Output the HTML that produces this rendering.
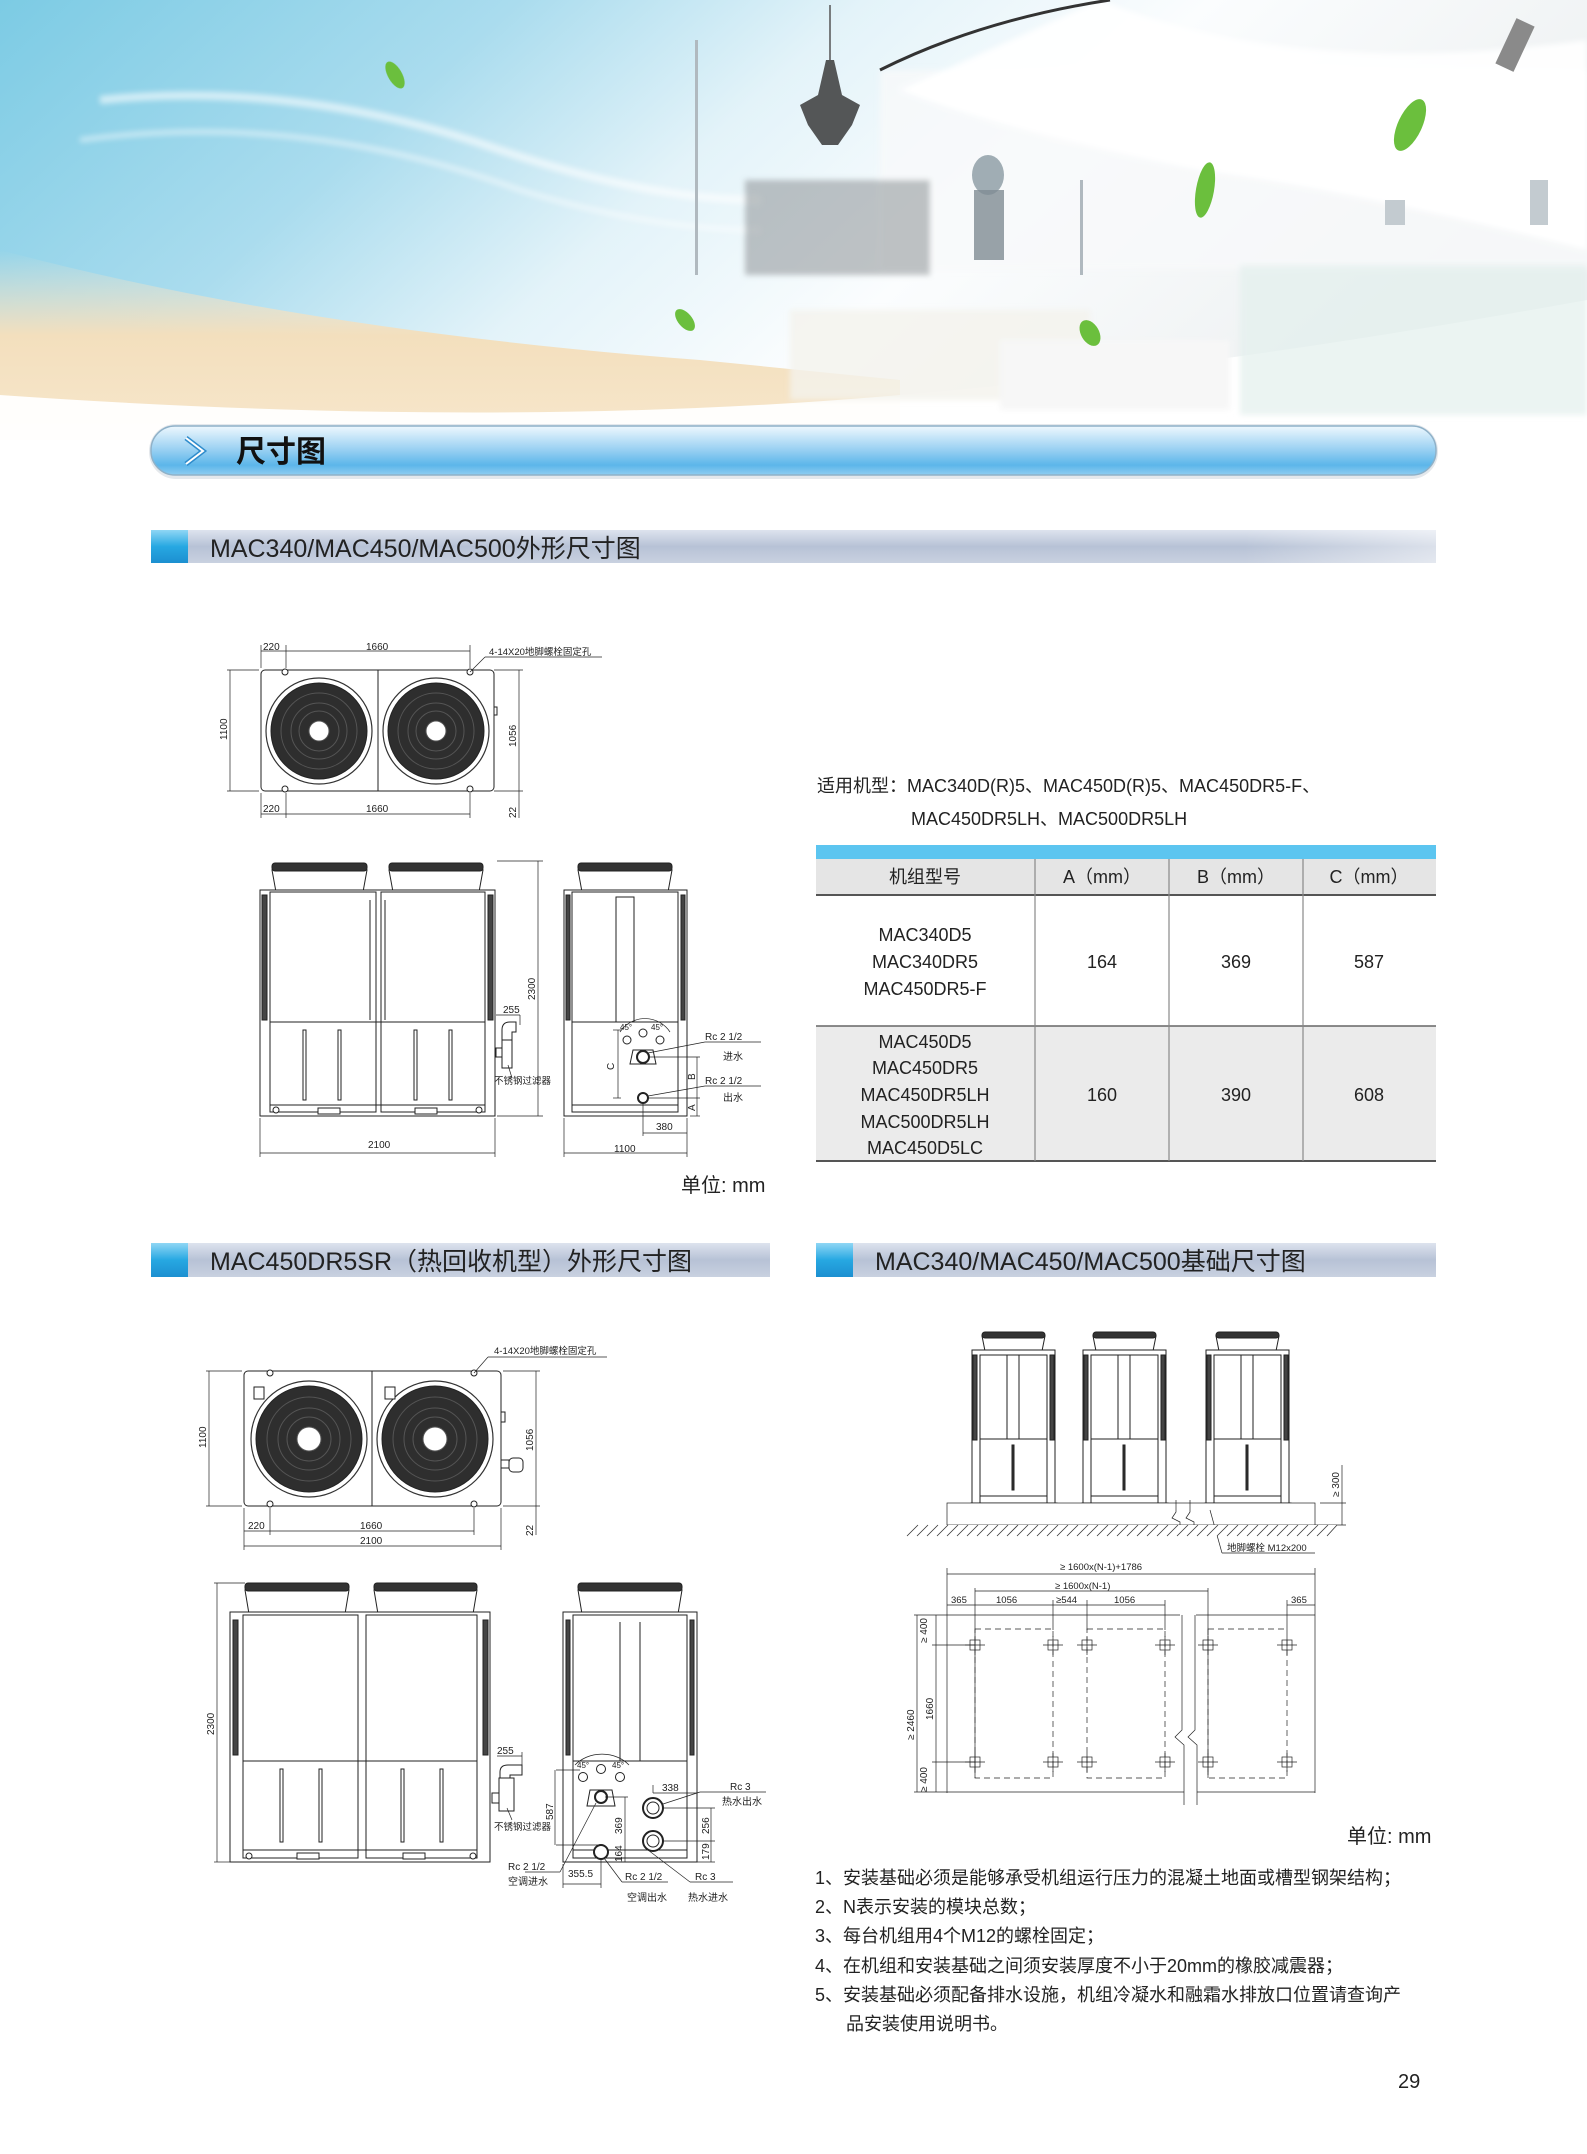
<!DOCTYPE html>
<html><head><meta charset="utf-8">
<style>
html,body{margin:0;padding:0;background:#fff;}
body{width:1587px;height:2154px;overflow:hidden;position:relative;font-family:"Liberation Sans","Noto Sans CJK SC",sans-serif;}
svg{position:absolute;left:0;top:0;}
</style></head><body>
<svg width="1587" height="2154" viewBox="0 0 1587 2154" xmlns="http://www.w3.org/2000/svg" font-family="Liberation Sans, Noto Sans CJK SC, sans-serif">
<defs>
<linearGradient id="sky" x1="0" y1="0" x2="1" y2="0.3">
<stop offset="0" stop-color="#7ccbe4"/><stop offset="0.3" stop-color="#aadcee"/><stop offset="0.5" stop-color="#e3f3f9"/><stop offset="0.7" stop-color="#fbfdfe"/><stop offset="1" stop-color="#eef1f2"/></linearGradient>
<linearGradient id="beige" x1="0" y1="0" x2="0" y2="1"><stop offset="0" stop-color="#f3e6cf" stop-opacity="0"/><stop offset="0.45" stop-color="#f3dfbd"/><stop offset="1" stop-color="#f7e7cc"/></linearGradient>
<linearGradient id="pill" x1="0" y1="0" x2="0" y2="1"><stop offset="0" stop-color="#eef8fe"/><stop offset="0.45" stop-color="#9fd3f3"/><stop offset="0.8" stop-color="#5cb6ea"/><stop offset="1" stop-color="#8fcdf1"/></linearGradient>
<linearGradient id="bar" x1="0" y1="0" x2="0" y2="1"><stop offset="0" stop-color="#dde3ee"/><stop offset="0.5" stop-color="#b7c2d6"/><stop offset="1" stop-color="#c9d1e0"/></linearGradient>
<linearGradient id="barh" x1="0" y1="0" x2="1" y2="0"><stop offset="0" stop-color="#fff" stop-opacity="0"/><stop offset="0.85" stop-color="#fff" stop-opacity="0"/><stop offset="1" stop-color="#fff" stop-opacity="0.5"/></linearGradient>
<linearGradient id="sq" x1="0" y1="0" x2="0" y2="1"><stop offset="0" stop-color="#8fd6f5"/><stop offset="0.5" stop-color="#27a8e2"/><stop offset="1" stop-color="#1c8fd0"/></linearGradient>
<filter id="blur"><feGaussianBlur stdDeviation="3"/></filter>
</defs>

<!-- HERO -->
<rect x="0" y="0" width="1587" height="430" fill="url(#sky)"/>
<path d="M0 250 Q300 330 700 360 L900 380 L900 440 L0 440 Z" fill="url(#beige)"/>
<path d="M0 395 Q500 430 900 395 Q1200 370 1587 300 L1587 440 L0 440 Z" fill="#fff" opacity="0.95"/>
<g filter="url(#blur)">
<path d="M100 100 Q300 80 500 150 Q650 200 760 200" stroke="#fff" stroke-width="8" fill="none" opacity="0.6"/>
<path d="M80 140 Q300 110 520 190 Q650 230 760 230" stroke="#fff" stroke-width="5" fill="none" opacity="0.5"/>
<rect x="880" y="70" width="720" height="200" fill="#f7f9fa" opacity="0.8"/>
<path d="M1100 0 Q1300 80 1587 40 L1587 250 Q1350 190 1200 170 Q1000 130 900 90 Z" fill="#fff" opacity="0.9"/>
<rect x="745" y="180" width="185" height="95" fill="#8d9296" opacity="0.55"/>
<rect x="1240" y="265" width="347" height="150" fill="#e2efed" opacity="0.7"/>
<rect x="790" y="310" width="300" height="90" fill="#f4f2ec" opacity="0.8"/>
<rect x="1000" y="340" width="230" height="70" fill="#f7f7f7"/>
</g>
<path d="M880 70 Q980 20 1110 0" stroke="#333" stroke-width="3" fill="none"/>
<rect x="1505" y="20" width="20" height="50" fill="#8a8a8a" transform="rotate(25 1515 45)"/>
<rect x="1385" y="200" width="20" height="25" fill="#c3cbd0"/><rect x="1530" y="180" width="18" height="45" fill="#c3cbd0"/>
<line x1="830" y1="5" x2="830" y2="60" stroke="#555" stroke-width="1.5"/>
<path d="M826 60 L834 60 L842 95 L860 105 L852 125 L838 145 L822 145 L808 125 L800 105 L818 95 Z" fill="#3a3a3a" opacity="0.85"/>
<ellipse cx="988" cy="175" rx="16" ry="20" fill="#8a9aa3" opacity="0.8"/><rect x="974" y="190" width="30" height="70" fill="#7f8c94" opacity="0.8"/>
<rect x="695" y="40" width="3" height="235" fill="#b0b9bf"/>
<rect x="1080" y="180" width="3" height="95" fill="#b0b9bf"/>
<g fill="#6bbf3d">
<ellipse cx="395" cy="75" rx="7" ry="15" transform="rotate(-30 395 75)"/>
<ellipse cx="1410" cy="125" rx="12" ry="28" transform="rotate(25 1410 125)"/>
<ellipse cx="1205" cy="190" rx="9" ry="28" transform="rotate(10 1205 190)"/>
<ellipse cx="685" cy="320" rx="7" ry="13" transform="rotate(-40 685 320)"/>
<ellipse cx="1090" cy="333" rx="9" ry="14" transform="rotate(-30 1090 333)"/>
</g>

<!-- header pill -->
<rect x="149" y="424" width="1289" height="55" rx="27" fill="#e4e8ec"/>
<rect x="151" y="426" width="1285" height="49" rx="24" fill="url(#pill)" stroke="#8fb1c8" stroke-width="1.5"/>
<path d="M186 438 L203 451 L186 464" stroke="#2f8ccc" stroke-width="5" fill="none"/>
<path d="M186 438 L203 451 L186 464" stroke="#fff" stroke-width="2" fill="none"/>
<text x="236" y="462" font-size="30" font-weight="bold" fill="#111">尺寸图</text>

<!-- section bars -->
<rect x="151" y="530" width="1285" height="33" fill="url(#bar)"/><rect x="151" y="530" width="1285" height="33" fill="url(#barh)"/>
<rect x="151" y="530" width="37" height="33" fill="url(#sq)"/>
<text x="210" y="557" font-size="25" fill="#222">MAC340/MAC450/MAC500外形尺寸图</text>

<rect x="151" y="1243" width="619" height="34" fill="url(#bar)"/>
<rect x="151" y="1243" width="37" height="34" fill="url(#sq)"/>
<text x="210" y="1270" font-size="25" fill="#222">MAC450DR5SR（热回收机型）外形尺寸图</text>

<rect x="816" y="1243" width="620" height="34" fill="url(#bar)"/>
<rect x="816" y="1243" width="37" height="34" fill="url(#sq)"/>
<text x="875" y="1270" font-size="25" fill="#222">MAC340/MAC450/MAC500基础尺寸图</text>

<!-- applicable models -->
<text x="817" y="792" font-size="18" fill="#222">适用机型：MAC340D(R)5、MAC450D(R)5、MAC450DR5-F、</text>
<text x="911" y="825" font-size="18" fill="#222">MAC450DR5LH、MAC500DR5LH</text>

<!-- table -->
<rect x="816" y="845" width="620" height="14" fill="#5cc5f0"/>
<rect x="816" y="859" width="620" height="36" fill="#e5e5e5"/>
<rect x="816" y="1026" width="620" height="135" fill="#ebebeb"/>
<line x1="816" y1="895" x2="1436" y2="895" stroke="#555" stroke-width="2"/>
<line x1="816" y1="1026" x2="1436" y2="1026" stroke="#666" stroke-width="1.5"/>
<line x1="816" y1="1161" x2="1436" y2="1161" stroke="#555" stroke-width="2"/>
<g stroke="#888" stroke-width="1.2"><line x1="1035" y1="859" x2="1035" y2="1161"/><line x1="1169" y1="859" x2="1169" y2="1161"/><line x1="1303" y1="859" x2="1303" y2="1161"/></g>
<g font-size="18" fill="#222" text-anchor="middle">
<text x="925" y="883">机组型号</text><text x="1102" y="883">A（mm）</text><text x="1236" y="883">B（mm）</text><text x="1369" y="883">C（mm）</text>
<text x="925" y="941">MAC340D5</text><text x="925" y="968">MAC340DR5</text><text x="925" y="995">MAC450DR5-F</text>
<text x="1102" y="968">164</text><text x="1236" y="968">369</text><text x="1369" y="968">587</text>
<text x="925" y="1048">MAC450D5</text><text x="925" y="1074">MAC450DR5</text><text x="925" y="1101">MAC450DR5LH</text><text x="925" y="1128">MAC500DR5LH</text><text x="925" y="1154">MAC450D5LC</text>
<text x="1102" y="1101">160</text><text x="1236" y="1101">390</text><text x="1369" y="1101">608</text>
</g>

<!-- ===== DRAWING 1 ===== -->
<g stroke="#222" stroke-width="1" fill="none" font-size="10">
<rect x="261" y="670" width="233" height="121" rx="4" fill="#fff"/>
<line x1="378" y1="670" x2="378" y2="791"/>
<rect x="494" y="707" width="3" height="8"/>
<g>
<circle cx="319" cy="731" r="53" fill="#fff" stroke="#333" stroke-width="1.2"/>
<circle cx="319" cy="731" r="48" fill="#2e2e2e"/>
<circle cx="319" cy="731" r="38" stroke="#555"/><circle cx="319" cy="731" r="28" stroke="#555"/><circle cx="319" cy="731" r="20" stroke="#555"/>
<circle cx="319" cy="731" r="10" fill="#fff" stroke="#555"/>
<circle cx="436" cy="731" r="53" fill="#fff" stroke="#333" stroke-width="1.2"/>
<circle cx="436" cy="731" r="48" fill="#2e2e2e"/>
<circle cx="436" cy="731" r="38" stroke="#555"/><circle cx="436" cy="731" r="28" stroke="#555"/><circle cx="436" cy="731" r="20" stroke="#555"/>
<circle cx="436" cy="731" r="10" fill="#fff" stroke="#555"/>
</g>
<g fill="#fff"><circle cx="285" cy="672" r="3"/><circle cx="470" cy="672" r="3"/><circle cx="285" cy="789" r="3"/><circle cx="470" cy="789" r="3"/></g>
<g stroke-width="0.7">
<line x1="261" y1="645" x2="261" y2="668"/><line x1="286" y1="645" x2="286" y2="668"/><line x1="470" y1="645" x2="470" y2="668"/>
<line x1="261" y1="651" x2="470" y2="651"/>
<line x1="227" y1="670" x2="259" y2="670"/><line x1="227" y1="791" x2="259" y2="791"/><line x1="230" y1="670" x2="230" y2="791"/>
<line x1="494" y1="670" x2="523" y2="670"/><line x1="494" y1="791" x2="523" y2="791"/><line x1="519" y1="670" x2="519" y2="818"/>
<line x1="261" y1="793" x2="261" y2="818"/><line x1="286" y1="793" x2="286" y2="818"/><line x1="470" y1="793" x2="470" y2="818"/>
<line x1="261" y1="814" x2="470" y2="814"/>
<line x1="470" y1="672" x2="485" y2="657"/><line x1="485" y1="657" x2="602" y2="657"/>
</g>
</g>
<g font-size="10" fill="#222">
<text x="263" y="650">220</text><text x="366" y="650">1660</text><text x="489" y="655" font-size="9.5">4-14X20地脚螺栓固定孔</text>
<text x="263" y="812">220</text><text x="366" y="812">1660</text>
<text transform="translate(227,740) rotate(-90)">1100</text>
<text transform="translate(516,747) rotate(-90)">1056</text>
<text transform="translate(516,818) rotate(-90)">22</text>
</g>

<!-- front view 1 -->
<g stroke="#222" stroke-width="1" fill="#fff">
<path d="M272 870 L367 870 L363 892 L276 892 Z"/><rect x="272" y="863" width="95" height="8" rx="3" fill="#333"/>
<path d="M389 870 L483 870 L479 892 L393 892 Z"/><rect x="389" y="863" width="94" height="8" rx="3" fill="#333"/>
<rect x="260" y="890" width="235" height="226"/>
<rect x="270" y="892" width="106" height="220"/><rect x="381" y="892" width="104" height="220"/>
<line x1="270" y1="1022" x2="485" y2="1022"/>
<line x1="370" y1="900" x2="370" y2="1020"/><line x1="385" y1="900" x2="385" y2="1020"/>
<rect x="262" y="895" width="5" height="125" fill="#444"/><rect x="488" y="895" width="5" height="125" fill="#444"/>
<rect x="303" y="1030" width="3" height="70"/><rect x="338" y="1030" width="3" height="70"/><rect x="414" y="1030" width="3" height="70"/><rect x="449" y="1030" width="3" height="70"/>
<line x1="270" y1="1105" x2="485" y2="1105"/>
<rect x="318" y="1108" width="22" height="6"/><rect x="415" y="1108" width="22" height="6"/>
<circle cx="276" cy="1110" r="3"/><circle cx="479" cy="1110" r="3"/>
<path d="M502 1050 L502 1030 Q502 1022 510 1022 L516 1022 L516 1032 L512 1032 L512 1050 Z"/>
<rect x="502" y="1040" width="10" height="28"/><rect x="496" y="1048" width="6" height="9"/>
</g>
<g stroke="#222" stroke-width="0.7" fill="none">
<line x1="497" y1="861" x2="543" y2="861"/><line x1="538" y1="861" x2="538" y2="1116"/><line x1="497" y1="1116" x2="543" y2="1116"/>
<line x1="496" y1="1015" x2="520" y2="1015"/><line x1="520" y1="1015" x2="520" y2="1025"/>
<line x1="260" y1="1118" x2="260" y2="1157"/><line x1="495" y1="1118" x2="495" y2="1157"/><line x1="260" y1="1153" x2="495" y2="1153"/>
<line x1="508" y1="1065" x2="512" y2="1078"/>
</g>
<g font-size="10" fill="#222"><text x="368" y="1148">2100</text><text transform="translate(535,1000) rotate(-90)">2300</text><text x="503" y="1013">255</text><text x="494" y="1084" font-size="9.5">不锈钢过滤器</text></g>

<!-- side view 1 -->
<g stroke="#222" stroke-width="1" fill="#fff">
<path d="M578 870 L672 870 L668 892 L582 892 Z"/><rect x="578" y="863" width="94" height="8" rx="3" fill="#333"/>
<rect x="564" y="890" width="123" height="226"/>
<rect x="572" y="892" width="106" height="220"/>
<rect x="566" y="895" width="4" height="125" fill="#444"/><rect x="681" y="895" width="4" height="125" fill="#444"/>
<rect x="616" y="897" width="18" height="125"/>
<line x1="572" y1="1022" x2="678" y2="1022"/>
<line x1="572" y1="1105" x2="678" y2="1105"/>
<circle cx="643" cy="1033" r="4"/><circle cx="627" cy="1040" r="4"/><circle cx="660" cy="1040" r="4"/>
<path d="M633 1050 L653 1050 L656 1064 L630 1064 Z"/>
<circle cx="643" cy="1057" r="6" fill="#fff" stroke-width="2"/>
<circle cx="643" cy="1098" r="5" stroke-width="2"/>
</g>
<g stroke="#222" stroke-width="0.7" fill="none">
<path d="M620 1032 A30 30 0 0 1 670 1032"/>
<line x1="618" y1="1030" x2="618" y2="1098"/><line x1="613" y1="1030" x2="621" y2="1030"/><line x1="613" y1="1098" x2="621" y2="1098"/>
<line x1="648" y1="1057" x2="700" y2="1057"/><line x1="697" y1="1057" x2="697" y2="1116"/><line x1="648" y1="1098" x2="700" y2="1098"/><line x1="690" y1="1116" x2="700" y2="1116"/>
<line x1="648" y1="1053" x2="705" y2="1042"/><line x1="705" y1="1042" x2="761" y2="1042"/>
<line x1="648" y1="1096" x2="705" y2="1086"/><line x1="705" y1="1086" x2="761" y2="1086"/>
<line x1="643" y1="1103" x2="643" y2="1136"/><line x1="687" y1="1118" x2="687" y2="1157"/><line x1="643" y1="1133" x2="687" y2="1133"/>
<line x1="564" y1="1118" x2="564" y2="1157"/><line x1="564" y1="1153" x2="687" y2="1153"/>
</g>
<g font-size="10" fill="#222">
<text x="614" y="1152">1100</text><text x="656" y="1130">380</text>
<text x="705" y="1040">Rc 2 1/2</text><text x="723" y="1060">进水</text><text x="705" y="1084">Rc 2 1/2</text><text x="723" y="1101">出水</text>
<text transform="translate(614,1070) rotate(-90)">C</text><text transform="translate(695,1080) rotate(-90)">B</text><text transform="translate(695,1111) rotate(-90)">A</text>
<text x="620" y="1030" font-size="8">45°</text><text x="651" y="1030" font-size="8">45°</text>
</g>
<text x="681" y="1192" font-size="20" fill="#222">单位: mm</text>

<!-- ===== DRAWING 2 ===== -->
<g stroke="#222" stroke-width="1" fill="none">
<rect x="244" y="1371" width="257" height="135" rx="4" fill="#fff"/>
<line x1="372" y1="1371" x2="372" y2="1506"/>
<circle cx="309" cy="1439" r="58" fill="#fff" stroke="#333" stroke-width="1.2"/><circle cx="309" cy="1439" r="53" fill="#2e2e2e"/>
<circle cx="309" cy="1439" r="42" stroke="#555"/><circle cx="309" cy="1439" r="31" stroke="#555"/><circle cx="309" cy="1439" r="22" stroke="#555"/><circle cx="309" cy="1439" r="12" fill="#fff" stroke="#555"/>
<circle cx="435" cy="1439" r="58" fill="#fff" stroke="#333" stroke-width="1.2"/><circle cx="435" cy="1439" r="53" fill="#2e2e2e"/>
<circle cx="435" cy="1439" r="42" stroke="#555"/><circle cx="435" cy="1439" r="31" stroke="#555"/><circle cx="435" cy="1439" r="22" stroke="#555"/><circle cx="435" cy="1439" r="12" fill="#fff" stroke="#555"/>
<rect x="254" y="1387" width="10" height="12" fill="#fff"/><rect x="385" y="1387" width="10" height="12" fill="#fff"/>
<rect x="501" y="1412" width="4" height="10"/>
<rect x="501" y="1460" width="8" height="8" fill="#fff"/><rect x="509" y="1458" width="14" height="14" rx="4" fill="#fff"/>
<g fill="#fff"><circle cx="270" cy="1373" r="3"/><circle cx="474" cy="1373" r="3"/><circle cx="270" cy="1504" r="3"/><circle cx="474" cy="1504" r="3"/></g>
<g stroke-width="0.7">
<line x1="206" y1="1371" x2="242" y2="1371"/><line x1="206" y1="1506" x2="242" y2="1506"/><line x1="209" y1="1371" x2="209" y2="1506"/>
<line x1="503" y1="1371" x2="540" y2="1371"/><line x1="503" y1="1506" x2="540" y2="1506"/><line x1="536" y1="1371" x2="536" y2="1535"/>
<line x1="244" y1="1508" x2="244" y2="1550"/><line x1="270" y1="1508" x2="270" y2="1535"/><line x1="474" y1="1508" x2="474" y2="1535"/><line x1="501" y1="1508" x2="501" y2="1550"/>
<line x1="244" y1="1531" x2="474" y2="1531"/><line x1="244" y1="1546" x2="501" y2="1546"/>
<line x1="474" y1="1373" x2="488" y2="1357"/><line x1="488" y1="1357" x2="607" y2="1357"/>
</g>
</g>
<g font-size="10" fill="#222">
<text x="494" y="1354" font-size="9.5">4-14X20地脚螺栓固定孔</text>
<text x="248" y="1529">220</text><text x="360" y="1529">1660</text><text x="360" y="1544">2100</text>
<text transform="translate(206,1448) rotate(-90)">1100</text><text transform="translate(533,1451) rotate(-90)">1056</text><text transform="translate(533,1536) rotate(-90)">22</text>
</g>

<!-- front view 2 -->
<g stroke="#222" stroke-width="1" fill="#fff">
<path d="M245 1590 L349 1590 L345 1614 L249 1614 Z"/><rect x="245" y="1583" width="104" height="8" rx="3" fill="#333"/>
<path d="M374 1590 L477 1590 L473 1614 L378 1614 Z"/><rect x="374" y="1583" width="103" height="8" rx="3" fill="#333"/>
<rect x="230" y="1612" width="260" height="250"/>
<rect x="243" y="1615" width="115" height="243"/><rect x="366" y="1615" width="111" height="243"/>
<line x1="243" y1="1761" x2="477" y2="1761"/>
<rect x="233" y="1620" width="5" height="135" fill="#444"/><rect x="483" y="1620" width="5" height="135" fill="#444"/>
<rect x="280" y="1769" width="3" height="73"/><rect x="319" y="1769" width="3" height="73"/><rect x="401" y="1769" width="3" height="73"/><rect x="440" y="1769" width="3" height="73"/>
<line x1="243" y1="1850" x2="477" y2="1850"/>
<rect x="297" y="1853" width="22" height="6"/><rect x="403" y="1853" width="22" height="6"/>
<circle cx="249" cy="1856" r="3"/><circle cx="473" cy="1856" r="3"/>
<path d="M500 1785 L500 1772 Q500 1765 508 1765 L522 1765 L522 1775 L510 1775 L510 1785 Z"/>
<rect x="499" y="1778" width="15" height="33"/><rect x="492" y="1793" width="7" height="10"/>
</g>
<g stroke="#222" stroke-width="0.7" fill="none">
<line x1="214" y1="1583" x2="245" y2="1583"/><line x1="217" y1="1583" x2="217" y2="1862"/><line x1="214" y1="1862" x2="230" y2="1862"/>
<line x1="497" y1="1756" x2="522" y2="1756"/><line x1="522" y1="1752" x2="522" y2="1765"/>
<line x1="507" y1="1808" x2="512" y2="1820"/>
</g>
<g font-size="10" fill="#222"><text transform="translate(214,1735) rotate(-90)">2300</text><text x="497" y="1754">255</text><text x="494" y="1830" font-size="9.5">不锈钢过滤器</text></g>

<!-- side view 2 -->
<g stroke="#222" stroke-width="1" fill="#fff">
<path d="M578 1590 L682 1590 L678 1614 L582 1614 Z"/><rect x="578" y="1583" width="104" height="8" rx="3" fill="#333"/>
<rect x="563" y="1612" width="134" height="250"/>
<rect x="573" y="1615" width="114" height="243"/>
<rect x="566" y="1620" width="4" height="135" fill="#444"/><rect x="690" y="1620" width="4" height="135" fill="#444"/>
<line x1="620" y1="1622" x2="620" y2="1761"/><line x1="640" y1="1622" x2="640" y2="1761"/>
<line x1="573" y1="1761" x2="687" y2="1761"/>
<line x1="573" y1="1850" x2="687" y2="1850"/>
<circle cx="601" cy="1769" r="4.5"/><circle cx="583" cy="1777" r="4.5"/><circle cx="620" cy="1777" r="4.5"/>
<path d="M590 1790 L612 1790 L615 1806 L587 1806 Z"/>
<circle cx="601" cy="1797" r="6" stroke-width="2"/>
<circle cx="601" cy="1852" r="7" stroke-width="2"/>
<circle cx="653" cy="1808" r="10" stroke-width="2"/><circle cx="653" cy="1808" r="6"/>
<circle cx="653" cy="1841" r="10" stroke-width="2"/><circle cx="653" cy="1841" r="6"/>
</g>
<g stroke="#222" stroke-width="0.7" fill="none">
<path d="M575 1765 A35 30 0 0 1 629 1765"/>
<line x1="556" y1="1770" x2="580" y2="1770"/><line x1="556" y1="1845" x2="601" y2="1845"/><line x1="555" y1="1770" x2="555" y2="1845"/>
<line x1="605" y1="1797" x2="628" y2="1797"/><line x1="625" y1="1797" x2="625" y2="1862"/><line x1="620" y1="1862" x2="630" y2="1862"/>
<line x1="653" y1="1793" x2="653" y2="1785"/><line x1="653" y1="1793" x2="697" y2="1793"/>
<line x1="663" y1="1808" x2="715" y2="1808"/><line x1="663" y1="1841" x2="715" y2="1841"/><line x1="711" y1="1808" x2="711" y2="1862"/><line x1="697" y1="1862" x2="715" y2="1862"/>
<line x1="663" y1="1804" x2="700" y2="1792"/><line x1="700" y1="1792" x2="766" y2="1792"/>
<line x1="596" y1="1803" x2="560" y2="1872"/><line x1="525" y1="1872" x2="560" y2="1872"/>
<line x1="604" y1="1858" x2="622" y2="1882"/><line x1="622" y1="1882" x2="668" y2="1882"/>
<line x1="648" y1="1850" x2="690" y2="1882"/><line x1="690" y1="1882" x2="733" y2="1882"/>
<line x1="563" y1="1864" x2="563" y2="1888"/><line x1="601" y1="1860" x2="601" y2="1888"/><line x1="563" y1="1884" x2="601" y2="1884"/>
</g>
<g font-size="10" fill="#222">
<text transform="translate(553,1820) rotate(-90)">587</text><text transform="translate(622,1834) rotate(-90)">369</text><text transform="translate(622,1862) rotate(-90)">164</text>
<text x="662" y="1791">338</text><text transform="translate(709,1834) rotate(-90)">256</text><text transform="translate(709,1860) rotate(-90)">179</text>
<text x="730" y="1790">Rc 3</text><text x="722" y="1805">热水出水</text>
<text x="508" y="1870">Rc 2 1/2</text><text x="508" y="1885">空调进水</text>
<text x="568" y="1877">355.5</text>
<text x="625" y="1880">Rc 2 1/2</text><text x="627" y="1901">空调出水</text>
<text x="695" y="1880">Rc 3</text><text x="688" y="1901">热水进水</text>
<text x="577" y="1768" font-size="8">45°</text><text x="612" y="1768" font-size="8">45°</text>
</g>

<!-- ===== DRAWING 3 ===== -->
<g stroke="#222" stroke-width="1" fill="#fff">
<g id="u1">
<path d="M982 1336 L1045 1336 L1042 1351 L985 1351 Z"/><rect x="982" y="1332" width="63" height="6" rx="3" fill="#333"/>
<rect x="972" y="1350" width="83" height="153"/>
<rect x="980" y="1355" width="67" height="148"/>
<line x1="1007" y1="1355" x2="1007" y2="1439"/><line x1="1019" y1="1355" x2="1019" y2="1439"/>
<line x1="980" y1="1439" x2="1047" y2="1439"/>
<rect x="1012" y="1445" width="2" height="45" fill="#333"/>
<rect x="973" y="1355" width="4" height="85" fill="#444"/><rect x="1050" y="1355" width="4" height="85" fill="#444"/>
<line x1="980" y1="1496" x2="1047" y2="1496"/>
<rect x="971" y="1503" width="8" height="14"/><rect x="1049" y="1503" width="8" height="14"/>
</g>
<use href="#u1" x="111"/>
<use href="#u1" x="234"/>
</g>
<g stroke="#222" stroke-width="0.7" fill="none">
<rect x="947" y="1503" width="368" height="22" fill="#fff"/>
<path d="M1176 1500 L1176 1512 L1172 1518 L1180 1522 L1180 1535"/><path d="M1190 1500 L1190 1512 L1186 1518 L1194 1522 L1194 1535"/>
<line x1="1320" y1="1503" x2="1346" y2="1503"/><line x1="1342" y1="1465" x2="1342" y2="1525"/><line x1="1315" y1="1525" x2="1346" y2="1525"/>
<line x1="1210" y1="1510" x2="1222" y2="1553"/><line x1="1222" y1="1553" x2="1315" y2="1553"/>
<line x1="947" y1="1568" x2="947" y2="1793"/><line x1="1315" y1="1568" x2="1315" y2="1793"/>
<line x1="947" y1="1574" x2="1315" y2="1574"/>
<line x1="975" y1="1588" x2="975" y2="1778"/><line x1="975" y1="1591" x2="1208" y2="1591"/><line x1="1208" y1="1588" x2="1208" y2="1778"/>
<line x1="947" y1="1605" x2="1165" y2="1605"/><line x1="1053" y1="1600" x2="1053" y2="1630"/><line x1="1087" y1="1600" x2="1087" y2="1630"/><line x1="1165" y1="1600" x2="1165" y2="1630"/>
<line x1="1287" y1="1605" x2="1315" y2="1605"/><line x1="1287" y1="1600" x2="1287" y2="1630"/>
<line x1="947" y1="1615" x2="1180" y2="1615"/><line x1="1196" y1="1615" x2="1315" y2="1615"/>
<line x1="947" y1="1792" x2="1184" y2="1792"/><line x1="1197" y1="1792" x2="1315" y2="1792"/>
<line x1="914" y1="1615" x2="947" y2="1615"/><line x1="914" y1="1792" x2="947" y2="1792"/>
<line x1="917" y1="1615" x2="917" y2="1792"/><line x1="936" y1="1615" x2="936" y2="1792"/>
<line x1="932" y1="1645" x2="975" y2="1645"/><line x1="932" y1="1762" x2="975" y2="1762"/>
<path d="M1182 1615 L1182 1730 L1175 1737 L1184 1745 L1184 1805"/><path d="M1195 1615 L1195 1730 L1188 1737 L1197 1745 L1197 1805"/>
<g stroke-dasharray="6 4">
<rect x="975" y="1629" width="78" height="149"/><rect x="1087" y="1629" width="78" height="149"/><rect x="1208" y="1629" width="79" height="149"/>
</g>
<g id="b1"><rect x="970" y="1640" width="10" height="10"/><line x1="965" y1="1645" x2="985" y2="1645"/><line x1="975" y1="1636" x2="975" y2="1655"/></g>
<use href="#b1" x="78"/><use href="#b1" x="112"/><use href="#b1" x="190"/><use href="#b1" x="233"/><use href="#b1" x="312"/>
<use href="#b1" y="117"/><use href="#b1" x="78" y="117"/><use href="#b1" x="112" y="117"/><use href="#b1" x="190" y="117"/><use href="#b1" x="233" y="117"/><use href="#b1" x="312" y="117"/>
</g>
<rect x="907" y="1525" width="430" height="11" fill="#fff"/>
<g stroke="#333" stroke-width="0.8">
<path d="M907 1536 L918 1525 M917 1536 L928 1525 M927 1536 L938 1525 M937 1536 L948 1525 M947 1536 L958 1525 M957 1536 L968 1525 M967 1536 L978 1525 M977 1536 L988 1525 M987 1536 L998 1525 M997 1536 L1008 1525 M1007 1536 L1018 1525 M1017 1536 L1028 1525 M1027 1536 L1038 1525 M1037 1536 L1048 1525 M1047 1536 L1058 1525 M1057 1536 L1068 1525 M1067 1536 L1078 1525 M1077 1536 L1088 1525 M1087 1536 L1098 1525 M1097 1536 L1108 1525 M1107 1536 L1118 1525 M1117 1536 L1128 1525 M1127 1536 L1138 1525 M1137 1536 L1148 1525 M1147 1536 L1158 1525 M1157 1536 L1168 1525 M1167 1536 L1178 1525 M1177 1536 L1188 1525 M1187 1536 L1198 1525 M1197 1536 L1208 1525 M1207 1536 L1218 1525 M1217 1536 L1228 1525 M1227 1536 L1238 1525 M1237 1536 L1248 1525 M1247 1536 L1258 1525 M1257 1536 L1268 1525 M1267 1536 L1278 1525 M1277 1536 L1288 1525 M1287 1536 L1298 1525 M1297 1536 L1308 1525 M1307 1536 L1318 1525 M1317 1536 L1328 1525 M1327 1536 L1337 1525"/>
</g>
<g font-size="10" fill="#222">
<text transform="translate(1339,1497) rotate(-90)">≥ 300</text>
<text x="1227" y="1551" font-size="9.5">地脚螺栓  M12x200</text>
<text x="1060" y="1570" font-size="9.5">≥ 1600x(N-1)+1786</text>
<text x="1055" y="1589" font-size="9.5">≥ 1600x(N-1)</text>
<text x="951" y="1603" font-size="9.5">365</text><text x="996" y="1603" font-size="9.5">1056</text><text x="1056" y="1603" font-size="9.5">≥544</text><text x="1114" y="1603" font-size="9.5">1056</text><text x="1291" y="1603" font-size="9.5">365</text>
<text transform="translate(927,1643) rotate(-90)">≥ 400</text>
<text transform="translate(914,1740) rotate(-90)">≥ 2460</text>
<text transform="translate(933,1720) rotate(-90)">1660</text>
<text transform="translate(927,1792) rotate(-90)">≥ 400</text>
</g>
<text x="1347" y="1843" font-size="20" fill="#222">单位: mm</text>

<!-- notes -->
<g font-size="18" fill="#222">
<text x="815" y="1884">1、安装基础必须是能够承受机组运行压力的混凝土地面或槽型钢架结构；</text>
<text x="815" y="1913">2、N表示安装的模块总数；</text>
<text x="815" y="1942">3、每台机组用4个M12的螺栓固定；</text>
<text x="815" y="1972">4、在机组和安装基础之间须安装厚度不小于20mm的橡胶减震器；</text>
<text x="815" y="2001">5、安装基础必须配备排水设施，机组冷凝水和融霜水排放口位置请查询产</text>
<text x="846" y="2030">品安装使用说明书。</text>
</g>
<text x="1398" y="2088" font-size="20" fill="#222">29</text>
</svg>
</body></html>
